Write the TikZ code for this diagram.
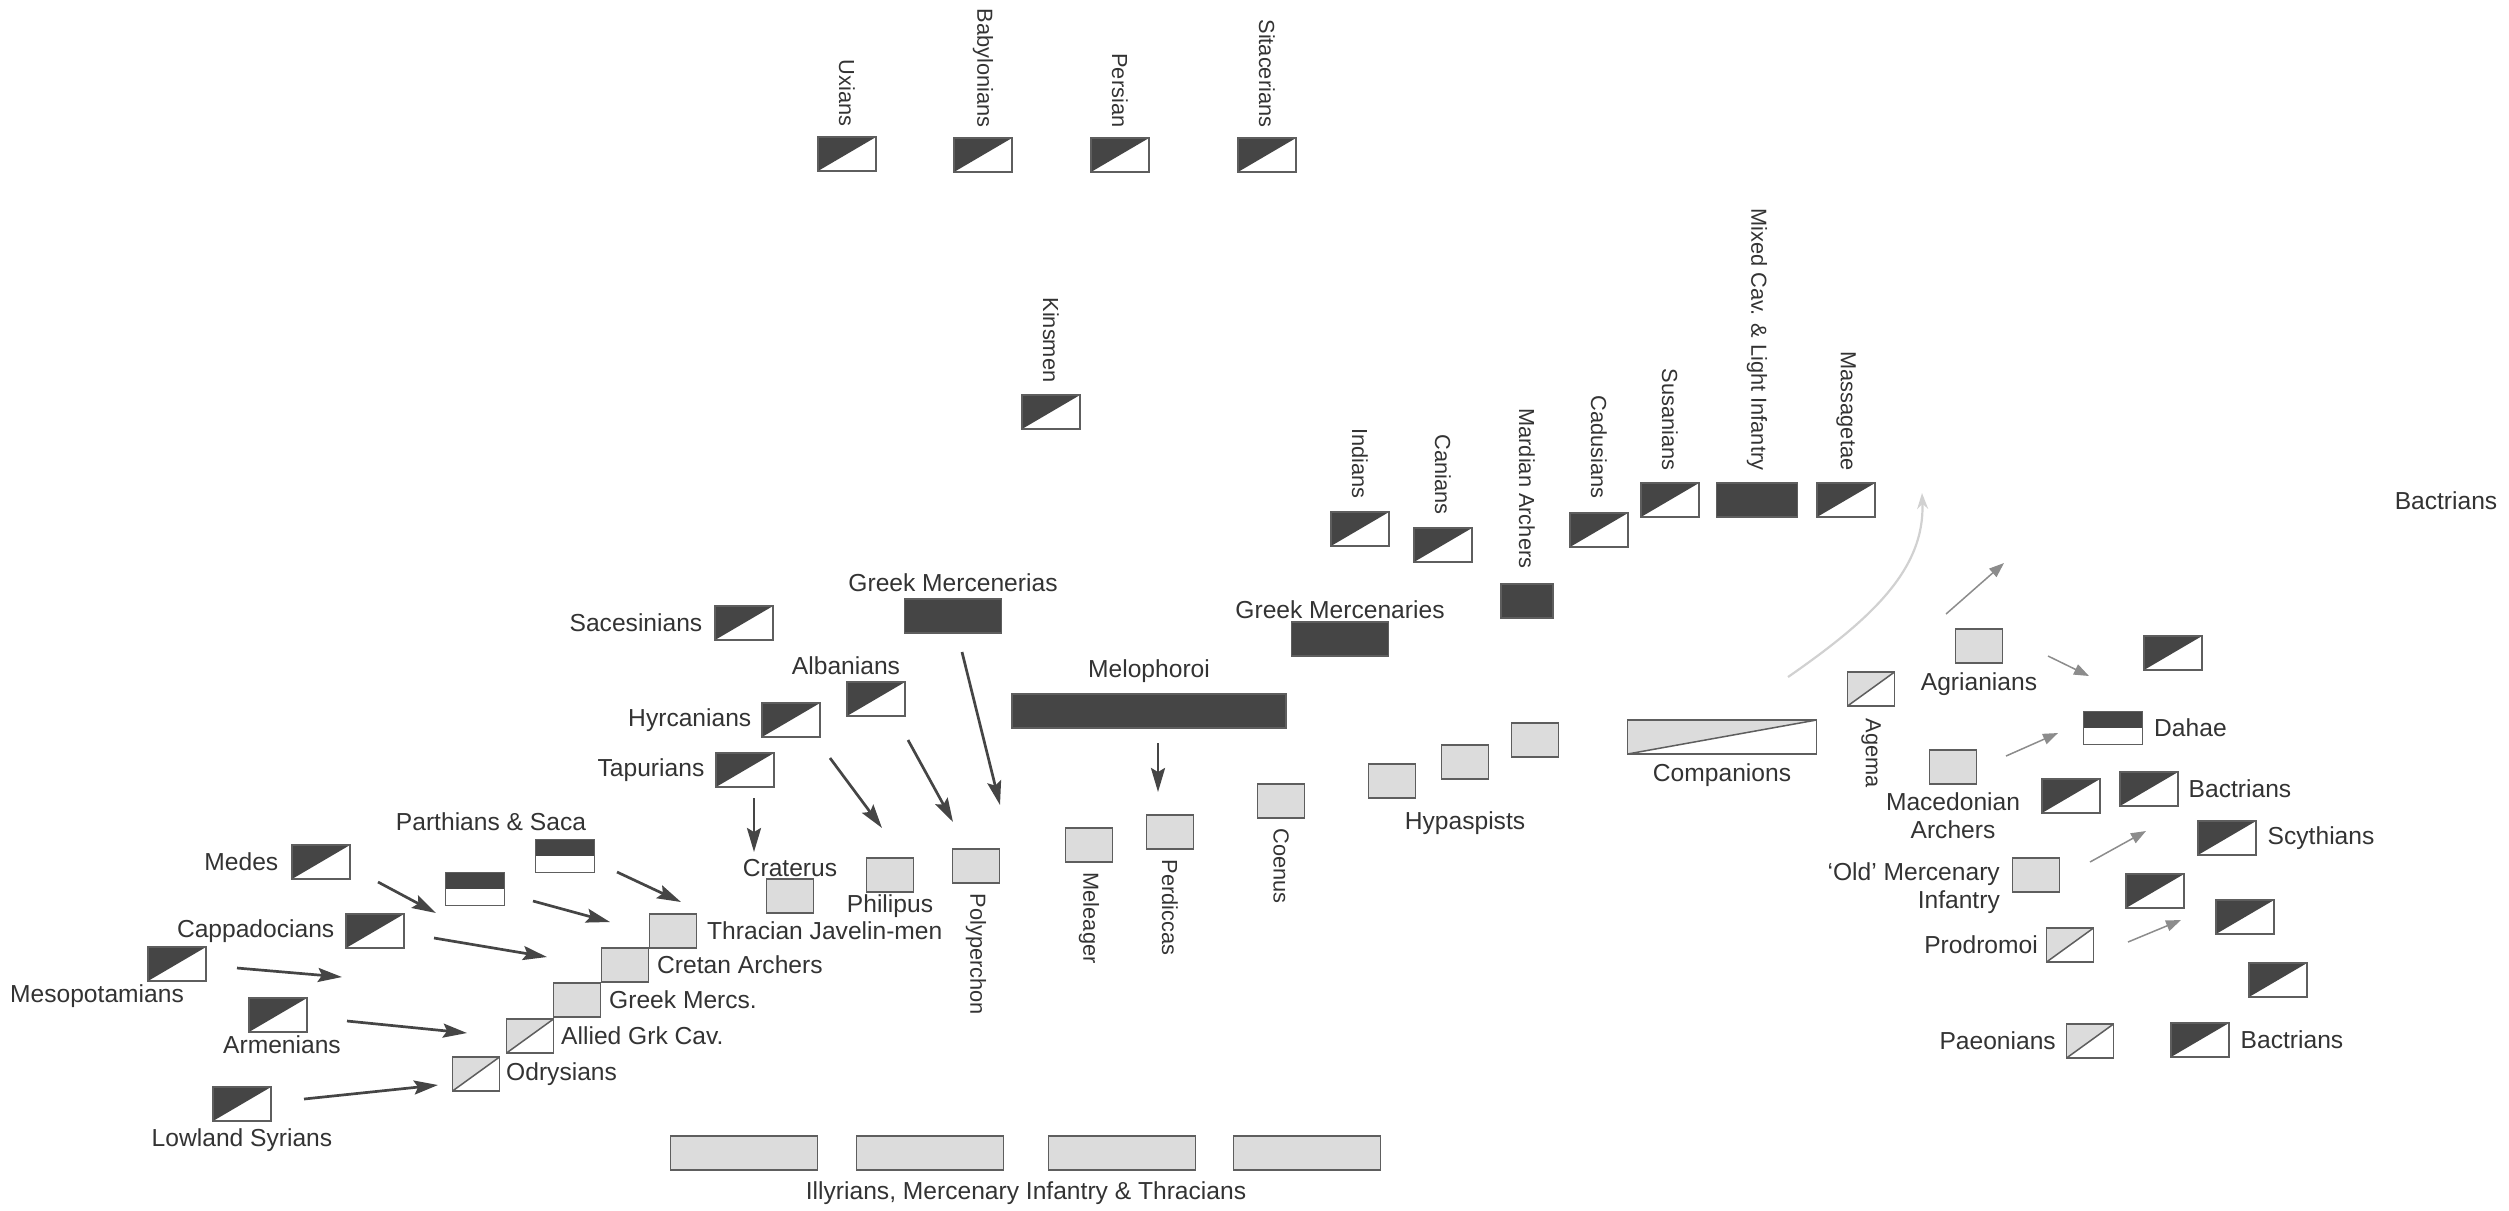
\documentclass[tikz,border=0pt]{standalone}
\usepackage{fontspec}
\setmainfont{Liberation Sans}
\usepackage{xcolor}
\usetikzlibrary{arrows.meta,positioning,calc}

\definecolor{inkdark}{HTML}{454545}
\definecolor{inklight}{HTML}{DCDCDC}
\definecolor{edge}{HTML}{5E5E5E}
\definecolor{txt}{HTML}{333333}

\tikzset{
  unit/.style={draw=edge, line width=0.18mm, inner sep=0pt, outer sep=0pt, minimum height=3.4mm},
  cav/.style={unit, minimum width=5.8mm, fill=white,
    path picture={\fill[inkdark] (path picture bounding box.south west) -- (path picture bounding box.north west) -- (path picture bounding box.north east) -- cycle;}},
  lcav/.style={unit, minimum width=4.7mm, fill=white,
    path picture={\fill[inklight] (path picture bounding box.south west) -- (path picture bounding box.north west) -- (path picture bounding box.north east) -- cycle;
      \draw[edge, line width=0.15mm] (path picture bounding box.south west) -- (path picture bounding box.north east);}},
  band/.style={unit, minimum width=5.9mm, fill=white,
    path picture={\fill[inkdark] (path picture bounding box.west) rectangle (path picture bounding box.north east);}},
  foot/.style={unit, minimum width=4.7mm, fill=inklight},
  heavy/.style={unit, fill=inkdark},
  lbl/.style={font=\fontsize{7}{8}\selectfont, text=txt, inner sep=0pt},
  vlbl/.style={font=\fontsize{6.2}{7}\selectfont, text=txt, inner sep=0pt, rotate=-90},
  march/.style={draw=inkdark, line width=0.27mm, -{Stealth[length=2.4mm, width=1.4mm, inset=0.4mm]}},
  skirm/.style={draw=black!45, line width=0.15mm, -{Triangle[length=1.5mm, width=1.1mm]}},
}

\begin{document}
\begin{tikzpicture}[x=0.1mm, y=-0.1mm]
\useasboundingbox (0,0) rectangle (2509,1210);
% Rear line, rotated labels
\node[cav] (uxi) at (847,154) {};
\node[cav] (bab) at (983,155) {};
\node[cav] (per) at (1120,155) {};
\node[cav] (sit) at (1267,155) {};
\node[cav] (kin) at (1051,412) {};
\node[vlbl, anchor=east] (uxi-l) at ([yshift=1mm]uxi.north) {Uxians};
\node[vlbl, anchor=east] (bab-l) at ([yshift=1mm]bab.north) {Babylonians};
\node[vlbl, anchor=east] (per-l) at ([yshift=1mm]per.north) {Persian};
\node[vlbl, anchor=east] (sit-l) at ([yshift=1mm]sit.north) {Sitacerians};
\node[vlbl, anchor=east] (kin-l) at ([yshift=1.2mm]kin.north) {Kinsmen};
% Right of the centre
\node[cav] (ind) at (1360,529) {};
\node[cav] (can) at (1443,545) {};
\node[heavy, minimum width=5.2mm] (mar) at (1527,601) {};
\node[cav] (cad) at (1599,530) {};
\node[cav] (sus) at (1670,500) {};
\node[heavy, minimum width=8.1mm] (mix) at (1757,500) {};
\node[cav] (mas) at (1846,500) {};
\node[vlbl, anchor=east] (ind-l) at ([yshift=1.3mm]ind.north) {Indians};
\node[vlbl, anchor=east] (can-l) at ([yshift=1.3mm]can.north) {Canians};
\node[vlbl, anchor=east] (mar-l) at ([yshift=1.5mm]mar.north) {Mardian Archers};
\node[vlbl, anchor=east] (cad-l) at ([yshift=1.4mm]cad.north) {Cadusians};
\node[vlbl, anchor=east] (sus-l) at ([yshift=1.2mm]sus.north) {Susanians};
\node[vlbl, anchor=east] (mix-l) at ([yshift=1.2mm]mix.north) {Mixed Cav. \& Light Infantry};
\node[vlbl, anchor=east] (mas-l) at ([yshift=1.2mm]mas.north) {Massagetae};
% Centre
\node[heavy, minimum width=9.7mm] (grm1) at (953,616) {};
\node[heavy, minimum width=9.7mm] (grm2) at (1340,639) {};
\node[heavy, minimum width=27.4mm] (melo) at (1149,711) {};
\node[lbl, above=0.7mm of grm1] (grm1-l) {Greek Mercenerias};
\node[lbl, above=0.3mm of grm2] (grm2-l) {Greek Mercenaries};
\node[lbl, above=1.1mm of melo] (melo-l) {Melophoroi};
\node[cav] (sac) at (744,623) {};
\node[cav] (alb) at (876,699) {};
\node[cav] (hyr) at (791,720) {};
\node[cav] (tap) at (745,770) {};
\node[lbl, left=1.2mm of sac] (sac-l) {Sacesinians};
\node[lbl, above=0.7mm of alb, xshift=-3mm] (alb-l) {Albanians};
\node[lbl, left=1mm of hyr] (hyr-l) {Hyrcanians};
\node[lbl, left=1.1mm of tap] (tap-l) {Tapurians};
% Phalanx
\node[foot] (cra) at (790,896) {};
\node[foot] (phi) at (890,875) {};
\node[foot] (pol) at (976,866) {};
\node[foot] (mel) at (1089,845) {};
\node[foot] (per2) at (1170,832) {};
\node[foot] (coe) at (1281,801) {};
\node[lbl, above=0.2mm of cra] (cra-l) {Craterus};
\node[lbl, below=0.2mm of phi] (phi-l) {Philipus};
\node[vlbl, anchor=west] (pol-l) at ([yshift=-1mm]pol.south) {Polyperchon};
\node[vlbl, anchor=west] (mel-l) at ([yshift=-1mm]mel.south) {Meleager};
\node[vlbl, anchor=west] (per2-l) at ([yshift=-1mm]per2.south) {Perdiccas};
\node[vlbl, anchor=west] (coe-l) at ([yshift=-1mm]coe.south) {Coenus};
\node[foot] (hyp1) at (1392,781) {};
\node[foot] (hyp2) at (1465,762) {};
\node[foot] (hyp3) at (1535,740) {};
\node[lbl, below=3.2mm of hyp2] (hyp-l) {Hypaspists};
% Right wing
\node[lcav, minimum width=18.9mm] (com) at (1722,737) {};
\node[lbl, below=0.9mm of com] (com-l) {Companions};
\node[lcav] (age) at (1871,689) {};
\node[vlbl, anchor=west] (age-l) at ([yshift=-1.2mm]age.south) {Agema};
\node[foot] (agr) at (1979,646) {};
\node[lbl, below=0.9mm of agr] (agr-l) {Agrianians};
\node[cav] (bac1) at (2173,653) {};
\node[band, minimum height=3.3mm] (dah) at (2113,728) {};
\node[lbl, right=1.1mm of dah] (dah-l) {Dahae};
\node[foot] (mac) at (1953,767) {};
\node[lbl, below=0.8mm of mac, align=center] (mac-l) {Macedonian\\Archers};
\node[cav] (rw1) at (2071,796) {};
\node[cav] (bac2) at (2149,789) {};
\node[lbl, right=1mm of bac2] (bac2-l) {Bactrians};
\node[cav] (scy) at (2227,838) {};
\node[lbl, right=1.1mm of scy] (scy-l) {Scythians};
\node[foot] (old) at (2036,875) {};
\node[lbl, left=1.2mm of old, yshift=-1.3mm, align=right] (old-l) {‘Old’ Mercenary\\Infantry};
\node[cav] (rw2) at (2155,891) {};
\node[cav] (rw3) at (2245,917) {};
\node[lcav] (pro) at (2070,945) {};
\node[lbl, left=0.8mm of pro] (pro-l) {Prodromoi};
\node[cav] (rw4) at (2278,980) {};
\node[lcav] (pae) at (2090,1041) {};
\node[lbl, left=1mm of pae] (pae-l) {Paeonians};
\node[cav] (bac3) at (2200,1040) {};
\node[lbl, right=1.1mm of bac3] (bac3-l) {Bactrians};
\node[lbl] (bac4-l) at (2446,501) {Bactrians};
% Left wing
\node[cav] (med) at (321,862) {};
\node[band, minimum height=3.3mm] (parA) at (565,856) {};
\node[band, minimum height=3.3mm] (parB) at (475,889) {};
\node[cav] (cap) at (375,931) {};
\node[cav] (mes) at (177,964) {};
\node[cav] (arm) at (278,1015) {};
\node[cav] (syr) at (242,1104) {};
\node[lbl, left=1.3mm of med] (med-l) {Medes};
\node[lbl, above=0.8mm of parA, xshift=-7.4mm] (par-l) {Parthians \& Saca};
\node[lbl, left=1.1mm of cap] (cap-l) {Cappadocians};
\node[lbl, below=0.3mm of mes, xshift=-8mm] (mes-l) {Mesopotamians};
\node[lbl, below=0.3mm of arm, xshift=0.4mm] (arm-l) {Armenians};
\node[lbl, below=0.7mm of syr] (syr-l) {Lowland Syrians};
\node[foot] (thr) at (673,931) {};
\node[foot] (cre) at (625,965) {};
\node[foot] (gmc) at (577,1000) {};
\node[lcav] (all) at (530,1036) {};
\node[lcav] (ody) at (476,1074) {};
\node[lbl, right=1mm of thr] (thr-l) {Thracian Javelin-men};
\node[lbl, right=0.8mm of cre] (cre-l) {Cretan Archers};
\node[lbl, right=0.8mm of gmc] (gmc-l) {Greek Mercs.};
\node[lbl, right=0.7mm of all] (all-l) {Allied Grk Cav.};
\node[lbl, right=0.6mm of ody] (ody-l) {Odrysians};
% Baggage guard
\foreach \i/\cx in {1/744,2/930,3/1122,4/1307}
  \node[foot, minimum width=14.7mm] (ill\i) at (\cx,1153) {};
\node[lbl, anchor=north] (ill-l) at ([yshift=-1.1mm]$(ill2.south)!0.5!(ill3.south)$) {Illyrians, Mercenary Infantry \& Thracians};
% Dark arrows
\foreach \n/\xa/\ya/\xb/\yb in {a1/378/882/436/913, a2/533/901/610/922, a3/617/872/681/902,
    a4/434/938/547/957, a5/237/968/342/977, a6/347/1021/467/1033, a7/304/1099/438/1085,
    a8/754/798/754/852, a9/830/758/882/828, a10/908/740/953/822, a11/962/652/1000/805,
    a12/1158/743/1158/792} {
  \coordinate (\n-s) at (\xa,\ya);
  \coordinate (\n-e) at (\xb,\yb);
  \draw[march] (\n-s) -- (\n-e);
}
% Grey arrows
\foreach \n/\xa/\ya/\xb/\yb in {g1/1946/614/2004/563, g2/2048/656/2089/676, g3/2006/756/2058/733,
    g4/2090/862/2146/831, g5/2128/942/2181/920} {
  \coordinate (\n-s) at (\xa,\ya);
  \coordinate (\n-e) at (\xb,\yb);
  \draw[skirm] (\n-s) -- (\n-e);
}
% Sweep of the Companions
\coordinate (sw-s) at (1788,677);
\coordinate (sw-e) at (1922,493);
\draw[black!18, line width=0.22mm, -{Stealth[length=1.6mm, width=1.1mm]}] (sw-s) .. controls (1870,620) and (1925,570) .. (sw-e);
\end{tikzpicture}
\end{document}
